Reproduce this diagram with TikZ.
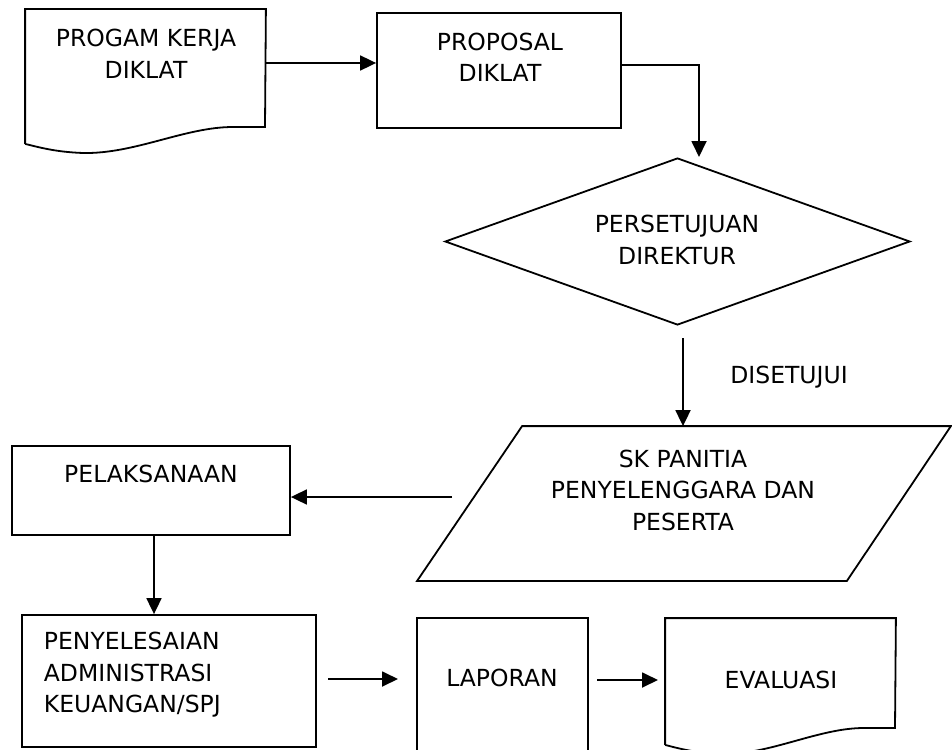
\documentclass[tikz,border=0pt]{standalone}
\usepackage{fontspec}
\setmainfont{DejaVu Sans}
\usetikzlibrary{arrows.meta,shapes.geometric}
\begin{document}
\begin{tikzpicture}[x=1pt,y=-1pt,
  line width=1.8pt,
  shapebox/.style={draw, line width=1.8pt, inner sep=0pt, rectangle},
  ghost/.style={inner sep=0pt, rectangle},
  txt/.style={font=\fontsize{23.5}{31.5}\selectfont, align=center, inner sep=0pt, text=black},
  arr/.style={-{Triangle[length=16pt,width=15pt]}, line width=1.8pt},
]
\useasboundingbox[fill=white] (0,0) rectangle (952,749);

% PROGAM KERJA (document)
\node[ghost, minimum width=239pt, minimum height=133pt] (prog) at (145.5,76.5) {};
\draw (prog.south west) -- (prog.north west) -- (prog.north east) -- (265,127) -- (233,127)
  .. controls (185,127) and (135,154) .. (83,153)
  .. controls (55,152) and (38,147) .. (prog.south west);
\node[txt] (progt) at (146,54) {PROGAM KERJA\\DIKLAT};

% PROPOSAL
\node[shapebox, minimum width=244pt, minimum height=115pt] (prop) at (499,70.5) {};
\node[txt] (propt) at (500,57.5) {PROPOSAL\\DIKLAT};

\coordinate (y1) at (0,63);
\draw[arr] (prog.east |- y1) -- (prop.west |- y1);

% PERSETUJUAN (diamond)
\node[draw, diamond, minimum width=465pt, minimum height=167pt, inner sep=0pt] (dir) at (677.5,241.5) {};
\node[txt] (dirt) at (677,240) {PERSETUJUAN\\DIREKTUR};

\coordinate (y2) at (0,65);
\coordinate (e1) at (699,157);
\draw[arr] (prop.east |- y2) -| (e1);

% SK PANITIA (parallelogram)
\node[ghost, minimum width=532pt, minimum height=153pt] (sk) at (684,503.5) {};
\draw ([xshift=105pt]sk.north west) -- (sk.north east) -- ([xshift=-104pt]sk.south east) -- (sk.south west) -- cycle;
\node[txt] (skt) at (683,490) {SK PANITIA\\PENYELENGGARA DAN\\PESERTA};

\coordinate (d1) at (683,338);
\draw[arr] (d1) -- (d1 |- sk.north);
\node[txt] (dis) at (789,377) {DISETUJUI};

% PELAKSANAAN
\node[shapebox, minimum width=278pt, minimum height=89pt] (pel) at (151,490.5) {};
\node[txt] (pelt) at (151,474) {PELAKSANAAN};
\coordinate (s1) at (452,497);
\draw[arr] (s1) -- (s1 -| pel.east);

% PENYELESAIAN
\node[shapebox, minimum width=294pt, minimum height=132pt] (peny) at (169,681) {};
\node[txt, align=left, anchor=west] (penyt) at (43,675) {PENYELESAIAN\\ADMINISTRASI\\KEUANGAN/SPJ};
\coordinate (c2) at (154,0);
\draw[arr] (pel.south -| c2) -- (peny.north -| c2);

% LAPORAN
\node[shapebox, minimum width=171pt, minimum height=140pt] (lap) at (502.5,688) {};
\node[txt] (lapt) at (502,678) {LAPORAN};
\coordinate (a3) at (328,679);
\coordinate (a3e) at (398,679);
\draw[arr] (a3) -- (a3e);

% EVALUASI (document)
\node[ghost, minimum width=229pt, minimum height=125pt] (eva) at (780.5,681.5) {};
\draw (eva.south west) -- (eva.north west) -- (eva.north east) -- (895,728) -- (864,728)
  .. controls (818,728) and (770,755) .. (721,754)
  .. controls (695,753) and (677,748) .. (eva.south west);
\node[txt] (evat) at (781,680) {EVALUASI};
\coordinate (a4) at (597,680);
\coordinate (a4e) at (658,680);
\draw[arr] (a4) -- (a4e);

\end{tikzpicture}
\end{document}
